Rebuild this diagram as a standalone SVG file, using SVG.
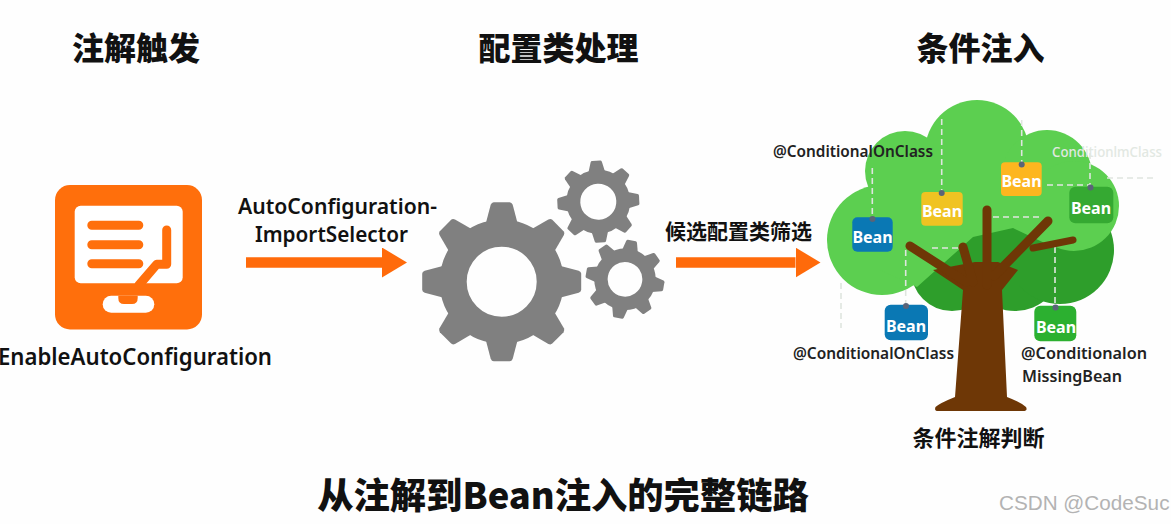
<svg xmlns="http://www.w3.org/2000/svg" xmlns:xlink="http://www.w3.org/1999/xlink" width="1171" height="524" viewBox="0 0 1171 524">
<style>
.title{font-family:"Noto Sans CJK SC","Noto Sans",sans-serif;font-weight:900;fill:#111;text-anchor:middle}
.lab{font-family:"Noto Sans","Noto Sans CJK SC",sans-serif;font-weight:600;fill:#111}
.cn{font-family:"Noto Sans CJK SC",sans-serif;font-weight:700;fill:#111;text-anchor:middle}
.ann{font-family:"Noto Sans",sans-serif;font-weight:600;fill:#222;font-size:16px}
.bean{font-family:"Noto Sans",sans-serif;font-weight:700;fill:#fff;font-size:16px;text-anchor:middle}
.dash{stroke:#dfe5df;stroke-width:1.6;stroke-dasharray:6 4;fill:none}
.dot{fill:#5a6478}
.lt{fill:#5ccf50}
.dk{fill:#2e9e2b}
.br{stroke:#6e3706;stroke-linecap:round;fill:none}
.ar{stroke:#ff6a0a;stroke-width:10.4;fill:none;marker-end:url(#head)}
.ic{stroke:#ff6f0c;stroke-width:9;stroke-linecap:round;stroke-linejoin:round;fill:none}
</style>
<defs>
<marker id="head" markerUnits="userSpaceOnUse" markerWidth="25" markerHeight="30" refX="0" refY="15" orient="auto"><path d="M0 0L25 15L0 30Z" fill="#ff6a0a"/></marker>
<path id="t" d="M-16-58L-11-77Q-10-79.500-8-79.500L8-79.500Q10-79.500 11-77L16-58Z" fill="#808080"/>
<g id="gear">
<circle r="48.500" fill="none" stroke="#808080" stroke-width="27"/>
<use href="#t"/><use href="#t" transform="rotate(45)"/><use href="#t" transform="rotate(90)"/><use href="#t" transform="rotate(135)"/><use href="#t" transform="rotate(180)"/><use href="#t" transform="rotate(225)"/><use href="#t" transform="rotate(270)"/><use href="#t" transform="rotate(315)"/>
</g>
</defs>
<rect width="1171" height="524" fill="#fefefe"/>

<g id="titles">
<text class="title" x="136" y="60" font-size="32">注解触发</text>
<text class="title" x="558.500" y="60" font-size="32">配置类处理</text>
<text class="title" x="980.500" y="60" font-size="32">条件注入</text>
<text class="title" x="563" y="509" font-size="36.300">从注解到Bean注入的完整链路</text>
</g>

<g id="connectors">
<line class="ar" x1="246" y1="262.500" x2="382" y2="262.500"/>
<line class="ar" x1="676" y1="262.500" x2="795.500" y2="262.500"/>
</g>

<g id="node-annotation">
<rect x="55" y="185" width="147" height="144.500" rx="15" fill="#ff6f0c"/>
<rect x="74.700" y="205.700" width="108" height="77.600" rx="6" fill="#fff"/>
<path class="ic" d="M91.800 225.300H138.800M91.800 244.700H138.800M91.800 263.700H138.800"/>
<path class="ic" d="M166.700 230V264.300H156.700L139 285"/>
<rect x="102.700" y="295.700" width="51.600" height="17" rx="8.500" fill="#fff"/>
<path d="M118.300 295.700H137.700V298Q137.700 304 132 304H124Q118.300 304 118.300 298Z" fill="#ff6f0c"/>
<text class="lab" x="-2" y="365" font-size="24" textLength="274" lengthAdjust="spacingAndGlyphs">EnableAutoConfiguration</text>
</g>

<g id="label-selector">
<text class="lab" x="238" y="214" font-size="22" textLength="199" lengthAdjust="spacingAndGlyphs">AutoConfiguration-</text>
<text class="lab" x="255" y="242" font-size="22" textLength="153" lengthAdjust="spacingAndGlyphs">ImportSelector</text>
</g>

<g id="node-gears">
<use href="#gear" transform="translate(501.700 281.700)"/>
<use href="#gear" transform="translate(598.300 201.700) rotate(-3) scale(.515)"/>
<use href="#gear" transform="translate(625 279.300) rotate(10) scale(.495)"/>
</g>

<g id="label-filter">
<text class="cn" x="738.500" y="239" font-size="21">候选配置类筛选</text>
</g>

<g id="node-tree">
<circle class="dk" cx="952" cy="270" r="41"/>
<circle class="dk" cx="1015" cy="264" r="47"/>
<circle class="dk" cx="1060" cy="250" r="54"/>
<rect class="dk" x="930" y="225" width="150" height="60"/>
<circle class="lt" cx="977" cy="152" r="52"/>
<circle class="lt" cx="905" cy="171" r="40"/>
<circle class="lt" cx="1047" cy="175" r="45"/>
<circle class="lt" cx="1074" cy="206" r="45"/>
<circle class="lt" cx="882" cy="240" r="55"/>
<path class="lt" d="M880 180H1075V228L1053 247L1013 228L973 237L917 287L880 270Z"/>
<path class="dash" d="M841 283V328M905.700 250V304M932 248H960M993 217H1043M1047 185H1090M1107 178H1153M1055 247V305M872.300 168V218M941.700 119V192M1021.700 120V163M1090 153V187"/>
<path d="M933 270L963 290L955 397Q940 403 935.500 407Q934 411 938 411H1023Q1028 411 1026 407Q1020 402 1007 397L1002 290L1018 270L998 262H975Z" fill="#6e3706"/>
<path class="br" stroke-width="9" d="M987 210V285M910 246L966 282M963 247L973 282M1048 221L994 276"/>
<path class="br" stroke-width="7" d="M1033 248L1073 240"/>
</g>

<g id="node-bean-1"><rect x="852.300" y="217.300" width="40.400" height="34.400" rx="5" fill="#0a78b4"/><circle class="dot" cx="872.500" cy="219" r="3"/><text class="bean" x="872.500" y="243">Bean</text></g>
<g id="node-bean-2"><rect x="921.300" y="192" width="41.400" height="33.700" rx="4" fill="#f0c322"/><circle class="dot" cx="941.700" cy="193" r="3"/><text class="bean" x="942" y="217">Bean</text></g>
<g id="node-bean-3"><rect x="1001" y="162.300" width="40.700" height="33.700" rx="4" fill="#fdb61f"/><circle class="dot" cx="1021.700" cy="164.500" r="3"/><text class="bean" x="1021.500" y="187">Bean</text></g>
<g id="node-bean-4"><rect x="1069.300" y="186.700" width="44" height="36.600" rx="6" fill="#35a932"/><circle class="dot" cx="1090.500" cy="187.500" r="3"/><text class="bean" x="1091" y="214">Bean</text></g>
<g id="node-bean-5"><rect x="884.700" y="304.700" width="43.300" height="35.600" rx="6" fill="#0a78b4"/><circle class="dot" cx="906" cy="306" r="3"/><text class="bean" x="906" y="332">Bean</text></g>
<g id="node-bean-6"><rect x="1034.300" y="305.700" width="42" height="35.600" rx="6" fill="#2cb030"/><circle class="dot" cx="1055.500" cy="307.500" r="3"/><text class="bean" x="1056" y="333">Bean</text></g>

<g id="tree-labels">
<text class="ann" x="773" y="157" textLength="160" lengthAdjust="spacingAndGlyphs">@ConditionalOnClass</text>
<text class="ann" x="1052" y="157" textLength="110" lengthAdjust="spacingAndGlyphs" style="fill:#e2e8e2;font-size:14px;font-weight:500">ConditionlmClass</text>
<text class="ann" x="793" y="359" textLength="161" lengthAdjust="spacingAndGlyphs">@ConditionalOnClass</text>
<text class="ann" x="1021" y="359" textLength="126" lengthAdjust="spacingAndGlyphs">@Conditionalon</text>
<text class="ann" x="1022" y="382" textLength="100" lengthAdjust="spacingAndGlyphs">MissingBean</text>
<text class="cn" x="978.500" y="446" font-size="22">条件注解判断</text>
</g>

<text id="watermark" x="999" y="510" font-family="Liberation Sans, Arial, sans-serif" font-size="20.700" fill="#b3b3b3">CSDN @CodeSuc</text>
</svg>
